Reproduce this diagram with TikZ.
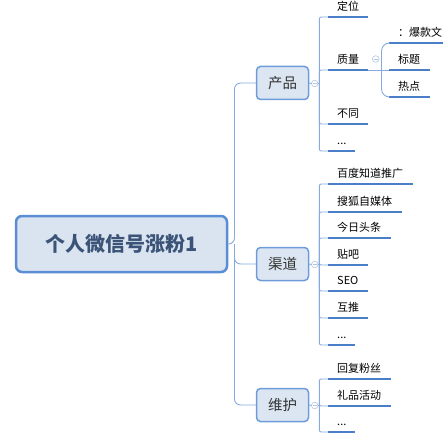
\documentclass[tikz,border=0pt]{standalone}
\usepackage{fontspec}
\setmainfont{Noto Sans CJK SC}
\definecolor{rootborder}{HTML}{5B8DD4}
\definecolor{rootfill}{HTML}{DAE4F1}
\definecolor{roottext}{HTML}{3A5377}
\definecolor{boxborder}{HTML}{6E9CDA}
\definecolor{boxfill}{HTML}{DCE6F2}
\definecolor{conncol}{HTML}{86AADF}
\definecolor{ulcol}{HTML}{4A7EC9}
\definecolor{circcol}{HTML}{B4C6E0}
\tikzset{
  rootbox/.style={draw=rootborder, fill=rootfill, line width=2.5pt, rounded corners=6pt,
    minimum width=211pt, minimum height=56pt, inner sep=0pt,
    font=\fontsize{20}{24}\selectfont\bfseries, text=roottext},
  branchbox/.style={draw=boxborder, fill=boxfill, line width=1.5pt, rounded corners=4pt,
    minimum width=52pt, minimum height=33pt, inner sep=0pt,
    font=\fontsize{14.5}{17}\selectfont, text=black!80},
  collapse/.style={circle, draw=circcol, fill=white, line width=0.6pt, minimum size=6.6pt, inner sep=0pt,
    path picture={\draw[circcol, line width=0.6pt] ([xshift=-1.8pt]path picture bounding box.center) -- ([xshift=1.8pt]path picture bounding box.center);}},
  conn/.style={draw=conncol, line width=0.9pt},
  uline/.style={draw=ulcol, line width=2.6pt},
  leaftext/.style={anchor=base west, inner sep=0pt, font=\fontsize{11}{13}\selectfont, text=black},
}
\newcommand\myleaf[5]{% name, x, y, length, text
  \node[leaftext] (#1) at (#2+9,#3-6.5) {#5};
  \coordinate (#1u) at (#2,#3);
  \draw[uline] (#1u) -- ++(#4,0);
}
\begin{document}
\begin{tikzpicture}[x=1pt,y=-1pt]
\useasboundingbox (0,0) rectangle (443,435);
% root and branches
\node[rootbox] (root) at (121.5,244) {个人微信号涨粉1};
\node[branchbox] (b1) at (282.5,83) {产品};
\node[branchbox] (b2) at (282.5,264) {渠道};
\node[branchbox] (b3) at (282.5,405) {维护};
\coordinate (r) at (234.5,244);
\draw[conn, rounded corners=6pt] (root.east) -- (r) |- (b1.west);
\draw[conn, rounded corners=6pt] (r) |- (b2.west);
\draw[conn, rounded corners=6pt] (r) |- (b3.west);
% collapse circles
\node[collapse] (c1) at (314.7,83.5) {};
\node[collapse] (c2) at (314.7,264.5) {};
\node[collapse] (c3) at (314.7,405.5) {};
\draw[conn] (b1.east) -- (c1.west);
\draw[conn] (b2.east) -- (c2.west);
\draw[conn] (b3.east) -- (c3.west);
\coordinate (j1) at (319.3,83.5);
\coordinate (j2) at (319.3,264.5);
\coordinate (j3) at (319.3,405.5);
\draw[conn] (c1.east) -- (j1);
\draw[conn] (c2.east) -- (j2);
\draw[conn] (c3.east) -- (j3);
% leaves of 产品
\myleaf{l11}{328}{17}{40}{定位}
\myleaf{l12}{328}{70}{40}{质量}
\myleaf{l13}{328}{124}{40}{不同}
\myleaf{l14}{328}{151}{27}{...}
\foreach \n in {l11,l12,l13,l14} \draw[conn, rounded corners=2pt] (j1) |- (\n u);
% leaves of 质量
\node[collapse] (c4) at (375.7,59) {};
\coordinate (j4) at (381.5,70);
\myleaf{l21}{389}{43}{70}{：爆款文}
\myleaf{l22}{389}{70}{41}{标题}
\myleaf{l23}{389}{97}{41}{热点}
\draw[conn] ([xshift=40pt]l12u) -- (l22u);
\draw[conn, rounded corners=8pt] (j4) |- (l21u);
\draw[conn, rounded corners=8pt] (j4) |- (l23u);
% leaves of 渠道
\myleaf{l31}{328}{184}{85}{百度知道推广}
\myleaf{l32}{328}{212}{74}{搜狐自媒体}
\myleaf{l33}{328}{238}{63}{今日头条}
\myleaf{l34}{328}{265}{40}{贴吧}
\myleaf{l35}{328}{291}{40}{SEO}
\myleaf{l36}{328}{318}{40}{互推}
\myleaf{l37}{328}{345}{27}{...}
\foreach \n in {l31,l32,l33,l34,l35,l36,l37} \draw[conn, rounded corners=2pt] (j2) |- (\n u);
% leaves of 维护
\myleaf{l41}{328}{379}{63}{回复粉丝}
\myleaf{l42}{328}{406}{63}{礼品活动}
\myleaf{l43}{328}{432}{27}{...}
\foreach \n in {l41,l42,l43} \draw[conn, rounded corners=2pt] (j3) |- (\n u);
\end{tikzpicture}
\end{document}
